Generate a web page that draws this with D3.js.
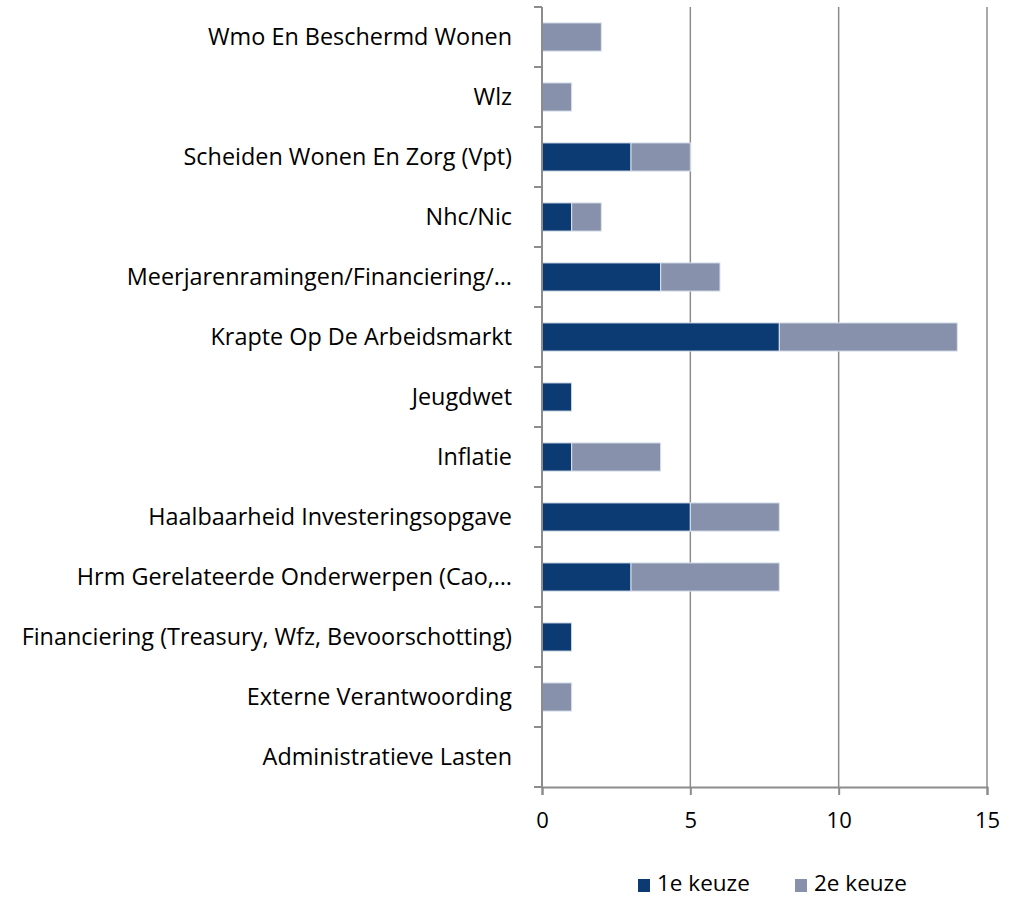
<!DOCTYPE html>
<html>
<head>
<meta charset="utf-8">
<script src="https://cdn.jsdelivr.net/npm/d3@7"></script>
<style>
  body { margin: 0; background: #fff; }
  svg { font-family: "Open Sans", "Noto Sans", sans-serif; }
</style>
</head>
<body>
<svg id="chart" width="1010" height="898"></svg>
<script>
// chart data, top to bottom
const categories = [
  "Wmo En Beschermd Wonen",
  "Wlz",
  "Scheiden Wonen En Zorg (Vpt)",
  "Nhc/Nic",
  "Meerjarenramingen/Financiering/…",
  "Krapte Op De Arbeidsmarkt",
  "Jeugdwet",
  "Inflatie",
  "Haalbaarheid Investeringsopgave",
  "Hrm Gerelateerde Onderwerpen (Cao,…",
  "Financiering (Treasury, Wfz, Bevoorschotting)",
  "Externe Verantwoording",
  "Administratieve Lasten"
];
const keuze1 = [0, 0, 3, 1, 4, 8, 1, 1, 5, 3, 1, 0, 0];
const keuze2 = [2, 1, 2, 1, 2, 6, 0, 3, 3, 5, 0, 1, 0];
const seriesNames = ["1e keuze", "2e keuze"];
const xTicks = [0, 5, 10, 15];

const colors = ["#0b3b72", "#8891ab"];
const plotLeft = 542, plotRight = 987, plotTop = 7, plotBottom = 787;

const svg = d3.select("#chart");

const x = d3.scaleLinear().domain([0, 15]).range([plotLeft, plotRight]);
const y = d3.scaleBand().domain(categories).range([plotTop, plotBottom]).paddingInner(0.53).paddingOuter(0.265);

// gridlines
svg.append("g")
  .selectAll("line")
  .data(xTicks.slice(1))
  .enter()
  .append("line")
  .attr("x1", d => x(d)).attr("x2", d => x(d))
  .attr("y1", plotTop).attr("y2", plotBottom)
  .attr("stroke", "#8c8c8c")
  .attr("stroke-width", 1.5);

// stacked bars
const rows = categories.map((c, i) => ({cat: c, "1e keuze": keuze1[i], "2e keuze": keuze2[i]}));
const stacked = d3.stack().keys(seriesNames)(rows);

svg.append("g")
  .selectAll("g")
  .data(stacked)
  .enter()
  .append("g")
  .attr("fill", (d, i) => colors[i])
  .selectAll("rect")
  .data(d => d.filter(s => s[1] > s[0]))
  .enter()
  .append("rect")
  .attr("x", d => x(d[0]))
  .attr("width", d => x(d[1]) - x(d[0]))
  .attr("y", d => y(d.data.cat))
  .attr("height", y.bandwidth())
  .attr("stroke", "#dde4ee")
  .attr("stroke-width", 1);

// y axis
const yAxis = svg.append("g")
  .attr("transform", `translate(${plotLeft},0)`);
yAxis.append("line")
  .attr("x1", 0).attr("x2", 0).attr("y1", plotTop).attr("y2", plotBottom)
  .attr("stroke", "#8c8c8c").attr("stroke-width", 2);
const bandStep = (plotBottom - plotTop) / categories.length;
yAxis.selectAll("line.tick")
  .data(d3.range(categories.length + 1))
  .enter()
  .append("line")
  .attr("class", "tick")
  .attr("x1", -8).attr("x2", 0)
  .attr("y1", d => plotTop + d * bandStep).attr("y2", d => plotTop + d * bandStep)
  .attr("stroke", "#8c8c8c").attr("stroke-width", 2);
yAxis.selectAll("text")
  .data(categories)
  .enter()
  .append("text")
  .attr("x", -30)
  .attr("y", d => y(d) + y.bandwidth() / 2)
  .attr("dy", "0.35em")
  .attr("text-anchor", "end")
  .attr("font-size", 23.4)
  .attr("fill", "#000")
  .text(d => d);

// x axis
const xAxis = d3.axisBottom(x).tickValues(xTicks).tickSize(8).tickPadding(17);
const gx = svg.append("g")
  .attr("transform", `translate(0,${plotBottom})`)
  .call(xAxis);
gx.select(".domain").attr("stroke", "#8c8c8c").attr("stroke-width", 2);
gx.selectAll(".tick line").attr("stroke", "#8c8c8c").attr("stroke-width", 2);
gx.selectAll(".tick text").attr("font-size", 22).attr("fill", "#000")
  .attr("font-family", "'Open Sans', sans-serif");

// legend
const legend = svg.append("g");
const legendX = [638, 795];
seriesNames.forEach((s, i) => {
  legend.append("rect")
    .attr("x", legendX[i]).attr("y", 879)
    .attr("width", 12).attr("height", 13)
    .attr("fill", colors[i]);
  legend.append("text")
    .attr("x", legendX[i] + 19).attr("y", 891)
    .attr("font-size", 22.5)
    .text(s);
});
</script>
</body>
</html>
